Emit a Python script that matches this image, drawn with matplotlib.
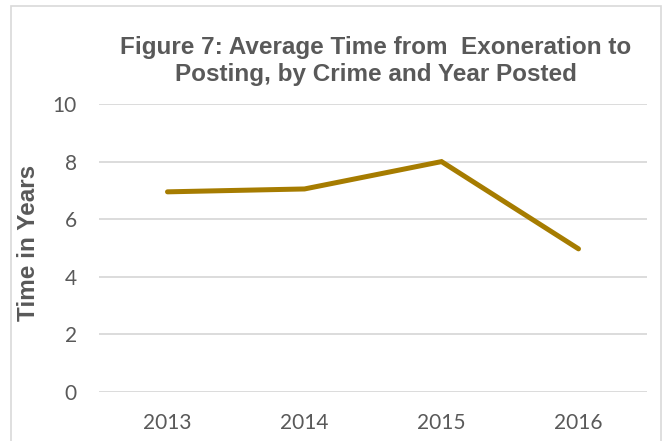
import matplotlib
matplotlib.use('Agg')
import matplotlib.pyplot as plt
from matplotlib.patches import Rectangle

years = ['2013', '2014', '2015', '2016']
avg_time = [6.95, 7.05, 8.0, 4.97]
y_ticks = [0, 2, 4, 6, 8, 10]

text_color = '#595959'
line_color = '#A67C00'
grid_color = '#D9D9D9'

fig = plt.figure(figsize=(6.63, 4.41), dpi=100)
ax = fig.add_axes([99 / 663, 1 - 392 / 441, 548 / 663, 288 / 441])

x = list(range(len(years)))
ax.plot(x, avg_time, color=line_color, linewidth=3.6, solid_capstyle='round',
        solid_joinstyle='miter', zorder=3)

ax.set_xlim(-0.5, len(years) - 0.5)
ax.set_ylim(0, 10)
ax.set_yticks(y_ticks)
ax.set_xticks(x)
ax.set_xticklabels(years)
ax.grid(axis='y', color=grid_color, linewidth=1.3)
ax.set_axisbelow(True)
for s in ax.spines.values():
    s.set_visible(False)
ax.tick_params(length=0, labelsize=15, labelcolor=text_color)
for lab in ax.get_xticklabels() + ax.get_yticklabels():
    lab.set_family('Lato')
ax.tick_params(axis='x', pad=15)
ax.tick_params(axis='y', pad=16)

fig.text(29 / 663, 1 - 243 / 441, 'Time in Years', rotation=90,
         ha='center', va='center', fontsize=17.5, fontweight='bold', color=text_color,
         family='Liberation Sans')

fig.text(376 / 663, 1 - 61 / 441,
         'Figure 7: Average Time from  Exoneration to\nPosting, by Crime and Year Posted',
         ha='center', va='center', fontsize=17.5, fontweight='bold', color=text_color,
         family='Liberation Sans', linespacing=1.2)

# chart border
fig.patches.append(Rectangle((11 / 663, -0.01), 650 / 663, 1 - 6 / 441 + 0.01,
                             transform=fig.transFigure, fill=False,
                             edgecolor=grid_color, linewidth=1.2))

fig.savefig('out.png', dpi=100)
